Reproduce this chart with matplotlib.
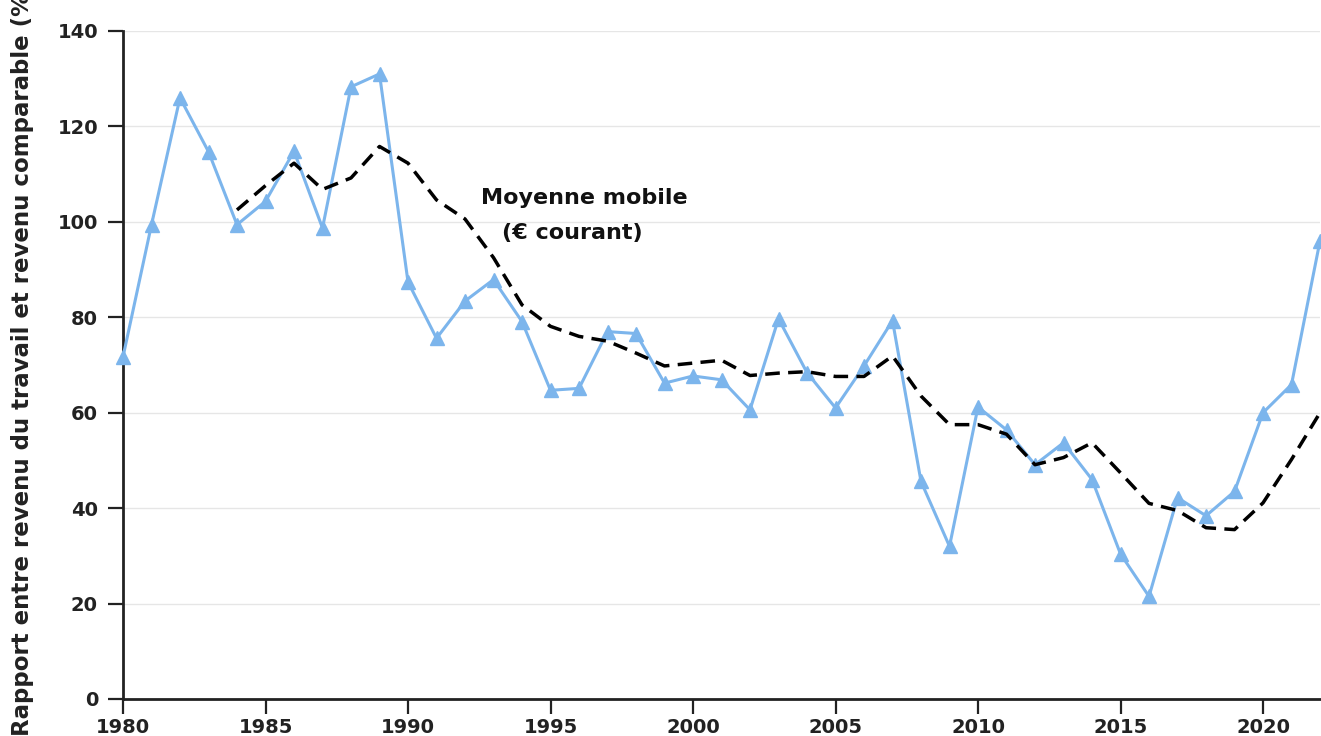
import matplotlib
matplotlib.use('Agg')
import matplotlib.pyplot as plt

# data
years = [1980, 1981, 1982, 1983, 1984, 1985, 1986, 1987, 1988, 1989,
         1990, 1991, 1992, 1993, 1994, 1995, 1996, 1997, 1998, 1999,
         2000, 2001, 2002, 2003, 2004, 2005, 2006, 2007, 2008, 2009,
         2010, 2011, 2012, 2013, 2014, 2015, 2016, 2017, 2018, 2019,
         2020, 2021, 2022]
ratio = [71.7, 99.4, 126.0, 114.7, 99.4, 104.3, 114.8, 98.7, 128.3, 131.0,
         87.4, 75.6, 83.4, 87.9, 79.1, 64.7, 65.1, 77.0, 76.6, 66.2,
         67.7, 66.9, 60.6, 79.7, 68.4, 61.0, 69.8, 79.3, 45.6, 32.0,
         61.2, 56.4, 49.1, 53.7, 46.0, 30.4, 21.5, 42.2, 38.4, 43.5,
         60.0, 65.9, 96.0]

ma_years = years[4:]
moving_avg = [102.5, 107.6, 112.3, 106.8, 109.2, 115.8, 112.3, 104.6, 100.6, 92.5,
              82.6, 78.1, 76.0, 75.0, 72.5, 69.8, 70.4, 71.0, 67.8, 68.3,
              68.6, 67.6, 67.6, 71.9, 63.5, 57.5, 57.5, 55.5, 49.1, 50.6,
              53.7, 47.4, 41.0, 39.5, 35.9, 35.5, 41.1, 50.2, 60.0]

xticks = [1980, 1985, 1990, 1995, 2000, 2005, 2010, 2015, 2020]
yticks = [0, 20, 40, 60, 80, 100, 120, 140]

linecolor = '#7cb5ec'
axiscolor = '#222222'
textsize = 14

fig = plt.figure(figsize=(13.21, 7.36), dpi=100, facecolor='white')
ax = fig.add_axes([123 / 1321, 37 / 736, 1197 / 1321, 668 / 736])

ax.plot(years, ratio, color=linecolor, lw=2.2, marker='^', markersize=10,
        clip_on=False, zorder=3)
ax.plot(ma_years, moving_avg, color='black', lw=2.5, dashes=(4.2, 2.4), zorder=4)

# label of the dashed series, placed in data coords
ax.text(1996.17, 105.0, 'Moyenne mobile', ha='center', va='center',
        fontsize=16, fontweight='bold', color='#111111')
ax.text(1995.75, 97.7, '(€ courant)', ha='center', va='center',
        fontsize=16, fontweight='bold', color='#111111')

ax.set_xlim(1980, 2022)
ax.set_ylim(0, 140)
ax.set_xticks(xticks)
ax.set_yticks(yticks)

ax.grid(axis='y', color='#e6e6e6', linewidth=1)
ax.set_axisbelow(True)
for side in ('top', 'right'):
    ax.spines[side].set_visible(False)
for side in ('left', 'bottom'):
    ax.spines[side].set_color(axiscolor)
    ax.spines[side].set_linewidth(2)

ax.tick_params(axis='both', colors=axiscolor, length=11, width=1.6,
               labelsize=textsize)
ax.tick_params(axis='y', pad=7)
ax.tick_params(axis='x', pad=3)
for label in ax.get_xticklabels() + ax.get_yticklabels():
    label.set_fontweight('bold')

# the label is longer than the figure is tall, as in the reference
ax.set_ylabel('Rapport entre revenu du travail et revenu comparable (%)',
              fontsize=16.5, fontweight='bold', color=axiscolor)
ax.yaxis.set_label_coords(-0.074, 0.508)

fig.savefig('out.png', dpi=100)
